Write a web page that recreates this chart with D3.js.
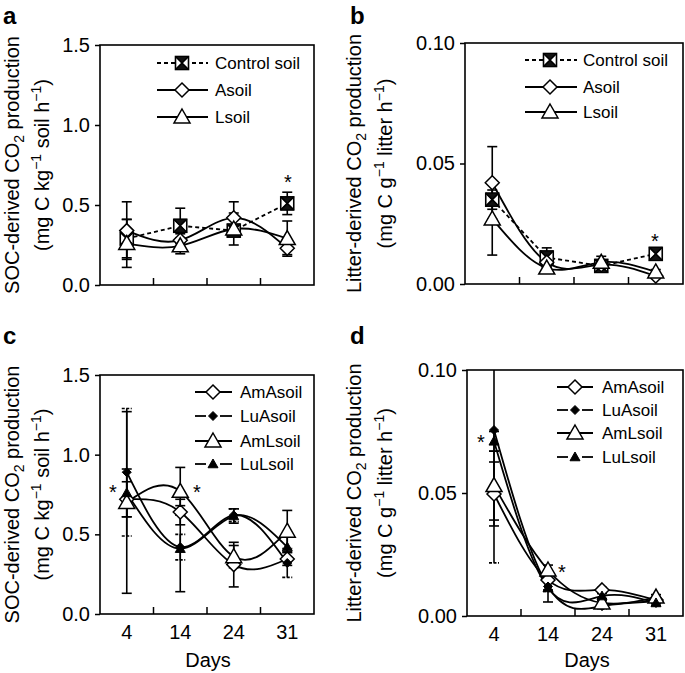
<!DOCTYPE html>
<html><head><meta charset="utf-8">
<script src="https://cdn.jsdelivr.net/npm/d3@7"></script>
<style>
body{margin:0;background:#fff}
svg{display:block}
text{font-family:"Liberation Sans",Arial,Helvetica,sans-serif;fill:#000}
</style>
</head><body>
<svg id="chart" width="685" height="673"></svg>
<script>
// ---------- data ----------
const days = ["4", "14", "24", "31"];
const yTicksSOC = [0, 0.5, 1.0, 1.5];
const yTicksLitter = [0, 0.05, 0.10];

// panel a : SOC-derived CO2
const aControl = [0.29, 0.37, 0.34, 0.51];
const aControlErr = [0.12, 0.11, 0.03, 0.07];
const aAsoil = [0.34, 0.28, 0.42, 0.23];
const aAsoilErr = [0.18, 0.04, 0.10, 0.04];
const aLsoil = [0.26, 0.245, 0.35, 0.29];
const aLsoilErr = [0.15, 0.05, 0.10, 0.11];

// panel b : litter-derived CO2
const bControl = [0.035, 0.011, 0.0075, 0.0125];
const bControlErr = [0.004, 0.004, 0.002, 0.001];
const bAsoil = [0.042, 0.009, 0.008, 0.0033];
const bAsoilErr = [0.015, 0.002, 0.002, 0.001];
const bLsoil = [0.027, 0.0066, 0.009, 0.005];
const bLsoilErr = [0.015, 0.001, 0.0025, 0.001];

// panel c : SOC-derived CO2
const cAmAsoil = [0.72, 0.64, 0.31, 0.345];
const cAmAsoilErr = [0.11, 0.08, 0.14, 0.04];
const cLuAsoil = [0.89, 0.42, 0.62, 0.32];
const cLuAsoilErr = [0.40, 0.08, 0.04, 0.09];
const cAmLsoil = [0.70, 0.77, 0.36, 0.52];
const cAmLsoilErr = [0.57, 0.15, 0.07, 0.13];
const cLuLsoil = [0.76, 0.41, 0.615, 0.42];
const cLuLsoilErr = [0.15, 0.27, 0.045, 0.07];

// panel d : litter-derived CO2
const dAmAsoil = [0.0496, 0.0146, 0.0106, 0.0065];
const dAmAsoilErr = [0.013, 0.004, 0.001, 0.001];
const dLuAsoil = [0.0756, 0.012, 0.004, 0.006];
const dLuAsoilErr = [0.054, 0.002, 0.001, 0.001];
const dAmLsoil = [0.053, 0.0187, 0.0053, 0.0077];
const dAmLsoilErr = [0.014, 0.002, 0.001, 0.001];
const dLuLsoil = [0.071, 0.0114, 0.0081, 0.0053];
const dLuLsoilErr = [0.004, 0.0057, 0.001, 0.001];

// ---------- drawing ----------
const svg = d3.select("#chart");
const FONT = 20;

function markerPath(type, x, y) {
  switch (type) {
    case "diamond": { const s = 7; return `M${x},${y-s}L${x+s},${y}L${x},${y+s}L${x-s},${y}Z`; }
    case "diamondSmall": { const s = 4.5; return `M${x},${y-s}L${x+s},${y}L${x},${y+s}L${x-s},${y}Z`; }
    case "triangle": { const s = 8; return `M${x},${y-s}L${x+s},${y+s*0.75}L${x-s},${y+s*0.75}Z`; }
    case "triangleSmall": { const s = 5; return `M${x},${y-s}L${x+s},${y+s*0.75}L${x-s},${y+s*0.75}Z`; }
  }
}
function drawMarker(g, type, x, y) {
  if (type === "xbox") {
    const s = 6.5;
    g.append("rect").attr("x", x - s).attr("y", y - s).attr("width", 2 * s).attr("height", 2 * s)
      .attr("fill", "#fff").attr("stroke", "#000").attr("stroke-width", 1.6);
    g.append("path").attr("d", `M${x-s},${y-s}L${x+s},${y-s}L${x},${y}Z M${x-s},${y+s}L${x+s},${y+s}L${x},${y}Z`)
      .attr("fill", "#111").attr("stroke", "#000").attr("stroke-width", 1);
    g.append("path").attr("d", `M${x-s},${y-s}L${x+s},${y+s}M${x+s},${y-s}L${x-s},${y+s}`)
      .attr("stroke", "#000").attr("stroke-width", 1.6);
    return;
  }
  const filled = type.endsWith("Small");
  g.append("path").attr("d", markerPath(type, x, y))
    .attr("fill", filled ? "#000" : "#fff").attr("stroke", "#000").attr("stroke-width", filled ? 1 : 1.5);
}

function panel(cfg) {
  const { L, R, T, B, domain, ticks, fmt } = cfg;
  const g = svg.append("g");
  const x = d3.scaleBand().domain(days).range([L, R]).padding(0);
  const cx = d => x(d) + x.bandwidth() / 2;
  const y = d3.scaleLinear().domain(domain).range([B, T]);

  const clipId = "clip" + cfg.letter;
  svg.append("clipPath").attr("id", clipId).append("rect")
    .attr("x", L).attr("y", T).attr("width", R - L).attr("height", B - T);

  // y axis
  const yAxis = g.append("g").attr("transform", `translate(${L},0)`)
    .call(d3.axisLeft(y).tickValues(ticks).tickFormat(d3.format(fmt)).tickSize(5).tickPadding(5));
  yAxis.select(".domain").remove();
  yAxis.selectAll("line").attr("stroke", "#000").attr("stroke-width", 1.5);
  yAxis.selectAll("text").style("font-size", FONT + "px").attr("fill", "#000");

  // inner x ticks at category boundaries
  g.selectAll(".xt").data(days.slice(1)).enter().append("line")
    .attr("x1", d => x(d)).attr("x2", d => x(d)).attr("y1", B).attr("y2", B - 7)
    .attr("stroke", "#000").attr("stroke-width", 1.5);

  if (cfg.showX) {
    const xAxis = g.append("g").attr("transform", `translate(0,${B})`)
      .call(d3.axisBottom(x).tickSize(0).tickPadding(11));
    xAxis.select(".domain").remove();
    xAxis.selectAll("text").style("font-size", FONT + "px").attr("fill", "#000");
    g.append("text").attr("x", cfg.daysX).attr("y", 667).attr("text-anchor", "middle")
      .style("font-size", FONT + "px").text("Days");
  }

  // frame
  g.append("rect").attr("x", L).attr("y", T).attr("width", R - L).attr("height", B - T)
    .attr("fill", "none").attr("stroke", "#000").attr("stroke-width", 1.6);

  const plot = g.append("g").attr("clip-path", `url(#${clipId})`);

  // lines
  cfg.series.forEach(s => {
    const line = d3.line().x((v, i) => cx(days[i])).y(v => y(v))
      .curve(s.dashed ? d3.curveLinear : d3.curveNatural);
    plot.append("path").datum(s.values).attr("d", line).attr("fill", "none")
      .attr("stroke", "#000").attr("stroke-width", 1.8)
      .attr("stroke-dasharray", s.dashed ? "4,3" : null);
  });
  // error bars
  cfg.series.forEach(s => {
    s.values.forEach((v, i) => {
      const xx = cx(days[i]);
      const e = s.errs[i];
      const y1 = y(v + e), y2 = y(v - e);
      plot.append("line").attr("x1", xx).attr("x2", xx).attr("y1", y1).attr("y2", y2)
        .attr("stroke", "#000").attr("stroke-width", 1.6);
      [y1, y2].forEach(yy => plot.append("line").attr("x1", xx - 5).attr("x2", xx + 5)
        .attr("y1", yy).attr("y2", yy).attr("stroke", "#000").attr("stroke-width", 1.6)
        .attr("stroke-dasharray", s.dashCap ? "3,1.5" : null));
    });
  });
  // markers
  cfg.series.forEach(s => {
    s.values.forEach((v, i) => drawMarker(plot, s.marker, cx(days[i]), y(v)));
  });

  // legend
  const lg = cfg.legend;
  cfg.series.forEach((s, i) => {
    const ly = lg.rows[i];
    const small = s.marker.endsWith("Small");
    const gap = small ? 7 : 0;
    if (gap) {
      g.append("line").attr("x1", lg.x1).attr("x2", lg.mx - gap).attr("y1", ly).attr("y2", ly)
        .attr("stroke", "#000").attr("stroke-width", 1.8);
      g.append("line").attr("x1", lg.mx + gap).attr("x2", lg.x2).attr("y1", ly).attr("y2", ly)
        .attr("stroke", "#000").attr("stroke-width", 1.8);
    } else {
      g.append("line").attr("x1", lg.x1).attr("x2", lg.x2).attr("y1", ly).attr("y2", ly)
        .attr("stroke", "#000").attr("stroke-width", 1.8)
        .attr("stroke-dasharray", s.dashed ? "4,3" : null);
    }
    drawMarker(g, s.marker, lg.mx, ly);
    g.append("text").attr("x", lg.tx).attr("y", ly + 6).style("font-size", "17px").text(s.name);
  });

  // asterisks
  cfg.stars.forEach(p => g.append("text").attr("x", p[0]).attr("y", p[1]).attr("text-anchor", "middle")
    .style("font-size", FONT + "px").text("*"));

  // panel letter
  g.append("text").attr("x", cfg.letterX).attr("y", cfg.letterY).style("font-size", "24px")
    .style("font-weight", "bold").text(cfg.letter);

  // y title (two lines, rotated)
  const cy = (T + B) / 2;
  const t1 = g.append("text").attr("transform", `translate(${cfg.title1X},${cy}) rotate(-90)`)
    .attr("text-anchor", "middle").style("font-size", FONT + "px");
  t1.append("tspan").text(cfg.titleMain + " CO");
  t1.append("tspan").attr("dy", 5).style("font-size", "14px").text("2");
  t1.append("tspan").attr("dy", -5).text(" production");
  const t2 = g.append("text").attr("transform", `translate(${cfg.title2X},${cy}) rotate(-90)`)
    .attr("text-anchor", "middle").style("font-size", FONT + "px");
  t2.append("tspan").text(`(mg C ${cfg.unitA}`);
  t2.append("tspan").attr("dy", -8).style("font-size", "14px").text("−1");
  t2.append("tspan").attr("dy", 8).text(` ${cfg.unitB} h`);
  t2.append("tspan").attr("dy", -8).style("font-size", "14px").text("−1");
  t2.append("tspan").attr("dy", 8).text(")");
}

panel({
  letter: "a", letterX: 3, letterY: 24, L: 100, R: 314, T: 45, B: 285,
  domain: [0, 1.5], ticks: yTicksSOC, fmt: ".1f", showX: false,
  title1X: 19, title2X: 49, titleMain: "SOC-derived", unitA: "kg", unitB: "soil",
  series: [
    { name: "Control soil", values: aControl, errs: aControlErr, marker: "xbox", dashed: true },
    { name: "Asoil", values: aAsoil, errs: aAsoilErr, marker: "diamond" },
    { name: "Lsoil", values: aLsoil, errs: aLsoilErr, marker: "triangle" }
  ],
  legend: { x1: 157, x2: 208, mx: 182, tx: 215, rows: [63, 90, 117] },
  stars: [[288, 189]]
});
panel({
  letter: "b", letterX: 350, letterY: 24, L: 465, R: 683, T: 43, B: 284,
  domain: [0, 0.10], ticks: yTicksLitter, fmt: ".2f", showX: false,
  title1X: 361, title2X: 392, titleMain: "Litter-derived", unitA: "g", unitB: "litter",
  series: [
    { name: "Control soil", values: bControl, errs: bControlErr, marker: "xbox", dashed: true },
    { name: "Asoil", values: bAsoil, errs: bAsoilErr, marker: "diamond" },
    { name: "Lsoil", values: bLsoil, errs: bLsoilErr, marker: "triangle" }
  ],
  legend: { x1: 525, x2: 577, mx: 550, tx: 583, rows: [60, 87, 112] },
  stars: [[655, 248]]
});
panel({
  letter: "c", letterX: 3, letterY: 344, L: 100, R: 314, T: 375, B: 614,
  domain: [0, 1.5], ticks: yTicksSOC, fmt: ".1f", showX: true, daysX: 208,
  title1X: 19, title2X: 49, titleMain: "SOC-derived", unitA: "kg", unitB: "soil",
  series: [
    { name: "AmAsoil", values: cAmAsoil, errs: cAmAsoilErr, marker: "diamond" },
    { name: "LuAsoil", values: cLuAsoil, errs: cLuAsoilErr, marker: "diamondSmall", dashCap: true },
    { name: "AmLsoil", values: cAmLsoil, errs: cAmLsoilErr, marker: "triangle" },
    { name: "LuLsoil", values: cLuLsoil, errs: cLuLsoilErr, marker: "triangleSmall" }
  ],
  legend: { x1: 195, x2: 232, mx: 213, tx: 240, rows: [392, 416, 441, 464] },
  stars: [[113, 499], [197, 499]]
});
panel({
  letter: "d", letterX: 350, letterY: 344, L: 467, R: 683, T: 370, B: 616,
  domain: [0, 0.10], ticks: yTicksLitter, fmt: ".2f", showX: true, daysX: 587,
  title1X: 361, title2X: 392, titleMain: "Litter-derived", unitA: "g", unitB: "litter",
  series: [
    { name: "AmAsoil", values: dAmAsoil, errs: dAmAsoilErr, marker: "diamond" },
    { name: "LuAsoil", values: dLuAsoil, errs: dLuAsoilErr, marker: "diamondSmall", dashCap: true },
    { name: "AmLsoil", values: dAmLsoil, errs: dAmLsoilErr, marker: "triangle" },
    { name: "LuLsoil", values: dLuLsoil, errs: dLuLsoilErr, marker: "triangleSmall" }
  ],
  legend: { x1: 557, x2: 593, mx: 575, tx: 602, rows: [387, 410, 433, 457] },
  stars: [[481, 449], [562, 579]]
});
</script>
</body></html>
